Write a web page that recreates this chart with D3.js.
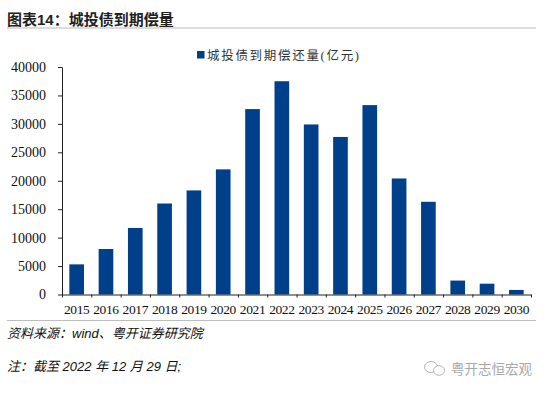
<!DOCTYPE html>
<html>
<head>
<meta charset="utf-8">
<script src="https://cdn.jsdelivr.net/npm/d3@7"></script>
<style>
    html, body { margin: 0; padding: 0; background: #fff; }
    svg { display: block; }
</style>
</head>
<body>
<svg width="550" height="393"></svg>
<script>
const years = ["2015", "2016", "2017", "2018", "2019", "2020", "2021", "2022",
    "2023", "2024", "2025", "2026", "2027", "2028", "2029", "2030"];
const maturity = [5300, 8000, 11700, 16000, 18300, 22000, 32600, 37500,
    29900, 27700, 33300, 20400, 16300, 2450, 1900, 800];
const yTicks = [0, 5000, 10000, 15000, 20000, 25000, 30000, 35000, 40000];

const titleText = "图表14：城投债到期偿量";
const legendText = "城投债到期偿还量(亿元)";
const sourceText = "资料来源：wind、粤开证券研究院";
const noteText = "注：截至 2022 年 12 月 29 日;";
const markText = "粤开志恒宏观";

const barColor = "#00408a";
const serif = "'Liberation Serif', 'Noto Sans CJK SC', serif";
const sans = "'Liberation Sans', 'Noto Sans CJK SC', sans-serif";

const svg = d3.select("svg");
const area = { left: 62, right: 531, top: 67, bottom: 294.5 };

const scX = d3.scaleBand().domain(years).range([area.left, area.right]).paddingInner(0.5).paddingOuter(0.25);
const scY = d3.scaleLinear().domain([0, 40000]).range([area.bottom, area.top]);
// ticks sit between the years, so they get their own scale over band edges
const scEdge = d3.scaleLinear().domain([0, years.length]).range([area.left, area.right]);

// title and rules
svg.append("text")
    .attr("x", 7).attr("y", 24.5)
    .attr("font-family", sans).attr("font-size", 15).attr("font-weight", "bold")
    .attr("fill", "#222")
    .text(titleText);

svg.append("line").attr("x1", 7).attr("x2", 536).attr("y1", 28).attr("y2", 28)
    .attr("stroke", "#d0d0d0").attr("stroke-width", 1.5);
svg.append("line").attr("x1", 7).attr("x2", 536).attr("y1", 320.5).attr("y2", 320.5)
    .attr("stroke", "#bdbdbd").attr("stroke-width", 1.2);

// legend
svg.append("rect").attr("x", 197).attr("y", 51).attr("width", 7.5).attr("height", 7.5).attr("fill", barColor);
svg.append("text")
    .attr("x", 207).attr("y", 60)
    .attr("font-family", serif).attr("font-size", 12.5).attr("letter-spacing", 1.7)
    .attr("fill", "#333")
    .text(legendText);

// bars
svg.selectAll(".bar")
    .data(maturity)
    .enter()
    .append("rect")
    .attr("class", "bar")
    .attr("x", (d, i) => scX(years[i]))
    .attr("y", d => scY(d))
    .attr("width", scX.bandwidth())
    .attr("height", d => scY(0) - scY(d))
    .attr("fill", barColor);

// axes
const axisY = svg.append("g")
    .attr("transform", `translate(${area.left}, 0)`)
    .call(d3.axisLeft(scY).tickValues(yTicks).tickSize(4).tickSizeOuter(0).tickPadding(12).tickFormat(d3.format("d")));

const axisEdges = svg.append("g")
    .attr("transform", `translate(0, ${area.bottom})`)
    .call(d3.axisBottom(scEdge).ticks(years.length).tickSize(3).tickSizeOuter(0).tickFormat(""));

const axisX = svg.append("g")
    .attr("transform", `translate(0, ${area.bottom})`)
    .call(d3.axisBottom(scX).tickSize(0).tickPadding(10));
axisX.select(".domain").remove();

axisY.selectAll("text")
    .attr("font-family", serif)
    .attr("font-size", 14)
    .attr("fill", "#111");
axisX.selectAll("text")
    .attr("font-family", serif)
    .attr("font-size", 13.5)
    .attr("letter-spacing", -0.4)
    .attr("fill", "#111");
[axisY, axisEdges].forEach(g => {
    g.selectAll("line, path").attr("stroke", "#222").attr("stroke-width", 1);
});

// footer
svg.append("text")
    .attr("x", 7).attr("y", 338)
    .attr("font-family", sans).attr("font-size", 13).attr("font-style", "italic")
    .attr("fill", "#111")
    .text(sourceText);
svg.append("text")
    .attr("x", 7).attr("y", 371)
    .attr("font-family", sans).attr("font-size", 13).attr("font-style", "italic")
    .attr("fill", "#111")
    .text(noteText);

// watermark
const mark = svg.append("g").attr("fill", "#fff").attr("stroke", "#b5b5b5").attr("stroke-width", 1);
mark.append("ellipse").attr("cx", 431).attr("cy", 367).attr("rx", 6.5).attr("ry", 5.5);
mark.append("ellipse").attr("cx", 439).attr("cy", 370.5).attr("rx", 5.5).attr("ry", 4.8);
svg.append("text")
    .attr("x", 451).attr("y", 374)
    .attr("font-family", sans).attr("font-size", 13.5)
    .attr("fill", "#a8a8a8")
    .text(markText);
</script>
</body>
</html>
